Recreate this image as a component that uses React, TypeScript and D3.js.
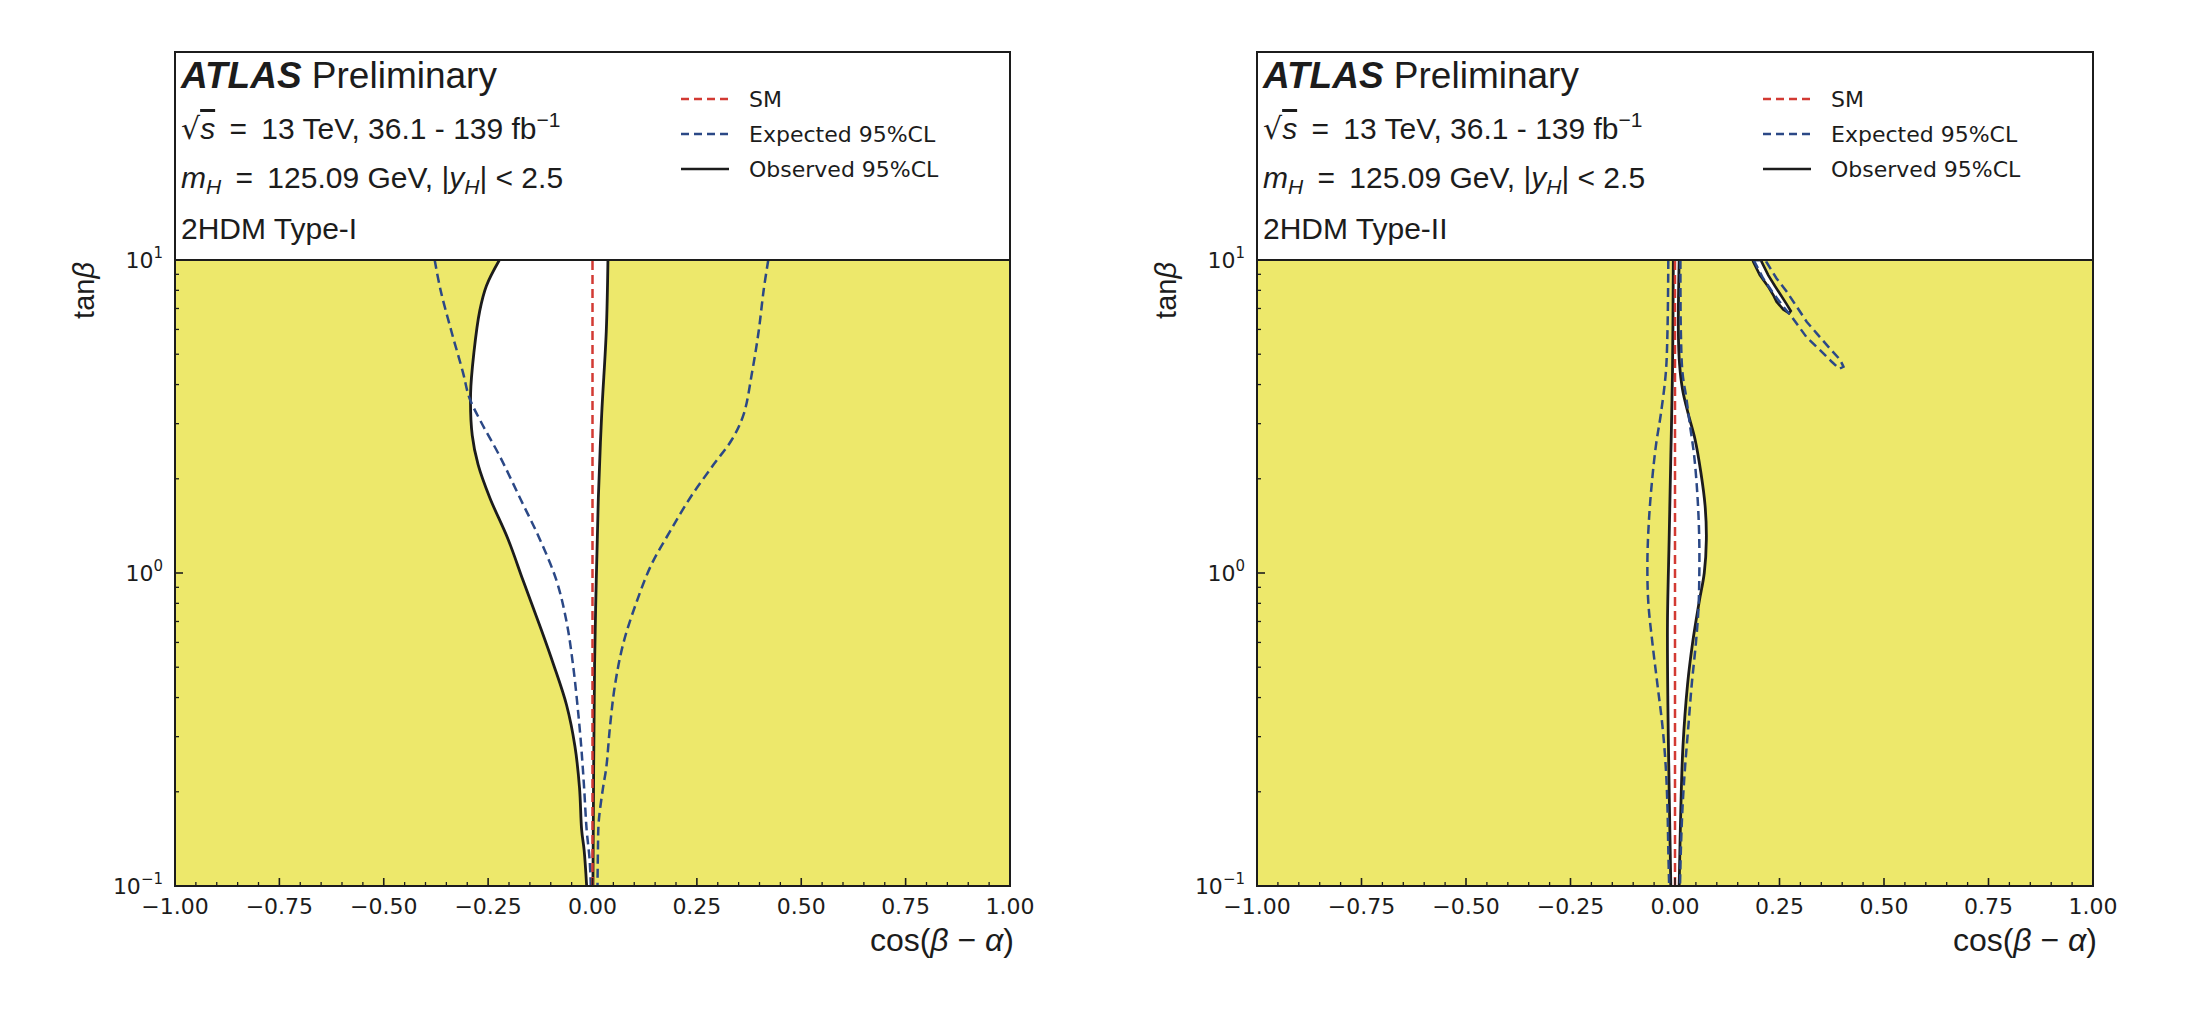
import React from 'react';
import * as d3 from 'd3';

type Pt = [number, number]; // [cos(beta - alpha), tan(beta)]

// ---- data ----
const xMajorTicks = [-1, -0.75, -0.5, -0.25, 0, 0.25, 0.5, 0.75, 1];
const yMajorTicks = [0.1, 1, 10];
const legendLabels = ['SM', 'Expected 95%CL', 'Observed 95%CL'];
const modelNames = ['2HDM Type-I', '2HDM Type-II'];

// Type-I observed contour (left and right edge of the allowed band, top -> bottom)
const typeIObsLeft: Pt[] = [
  [-0.223, 10], [-0.254, 8.28], [-0.27, 6.89], [-0.284, 5.07], [-0.292, 3.74],
  [-0.288, 2.75], [-0.274, 2.22], [-0.246, 1.74], [-0.202, 1.28], [-0.166, 0.944],
  [-0.122, 0.655], [-0.094, 0.513], [-0.062, 0.378], [-0.042, 0.279], [-0.031, 0.205],
  [-0.026, 0.151], [-0.02, 0.13], [-0.014, 0.1],
];
const typeIObsRight: Pt[] = [
  [0.037, 10], [0.033, 5.92], [0.022, 3.21], [0.014, 1.74], [0.009, 0.944],
  [0.005, 0.513], [0.001, 0.1],
];
// Type-I expected contour
const typeIExpLeft: Pt[] = [
  [-0.378, 10], [-0.364, 8.02], [-0.338, 5.92], [-0.31, 4.36], [-0.295, 3.63],
  [-0.266, 3.02], [-0.222, 2.36], [-0.174, 1.74], [-0.126, 1.28], [-0.086, 0.944],
  [-0.062, 0.697], [-0.047, 0.513], [-0.036, 0.378], [-0.027, 0.279], [-0.02, 0.205],
  [-0.014, 0.151], [-0.007, 0.122], [-0.004, 0.1],
];
const typeIExpRight: Pt[] = [
  [0.421, 10], [0.41, 8.02], [0.398, 5.92], [0.382, 4.36], [0.362, 3.21],
  [0.334, 2.67], [0.29, 2.22], [0.234, 1.74], [0.186, 1.36], [0.142, 1.07],
  [0.106, 0.811], [0.074, 0.597], [0.054, 0.44], [0.042, 0.324], [0.033, 0.239],
  [0.025, 0.205], [0.015, 0.161], [0.013, 0.13], [0.012, 0.1],
];

// Type-II observed contour
const typeIIObsLeft: Pt[] = [
  [-0.004, 10], [-0.006, 4.36], [-0.01, 2.36], [-0.014, 1.28], [-0.018, 0.697],
  [-0.017, 0.378], [-0.014, 0.205], [-0.01, 0.1],
];
const typeIIObsRight: Pt[] = [
  [0.01, 10], [0.008, 5.92], [0.011, 4.63], [0.018, 3.86], [0.032, 3.21],
  [0.048, 2.67], [0.062, 2.09], [0.072, 1.64], [0.075, 1.28], [0.07, 1.0],
  [0.058, 0.811], [0.042, 0.597], [0.03, 0.44], [0.019, 0.279], [0.014, 0.178],
  [0.01, 0.1],
];
const typeIIObsIsland: Pt[] = [
  [0.186, 10], [0.187, 9.89], [0.203, 8.95], [0.223, 8.22], [0.235, 7.73],
  [0.243, 7.36], [0.259, 6.95], [0.273, 6.76], [0.277, 6.87], [0.267, 7.23],
  [0.253, 7.73], [0.239, 8.26], [0.223, 8.95], [0.207, 9.89], [0.208, 10],
];
// Type-II expected contour
const typeIIExpLeft: Pt[] = [
  [-0.016, 10], [-0.018, 5.92], [-0.022, 4.36], [-0.034, 3.21], [-0.045, 2.59],
  [-0.054, 2.03], [-0.062, 1.5], [-0.066, 1.1], [-0.064, 0.811], [-0.054, 0.597],
  [-0.042, 0.44], [-0.03, 0.324], [-0.022, 0.239], [-0.018, 0.178], [-0.016, 0.13],
  [-0.014, 0.1],
];
const typeIIExpRight: Pt[] = [
  [0.013, 10], [0.014, 5.92], [0.018, 4.36], [0.027, 3.63], [0.035, 3.02],
  [0.046, 2.36], [0.054, 1.74], [0.058, 1.28], [0.058, 0.944], [0.056, 0.764],
  [0.05, 0.597], [0.04, 0.44], [0.032, 0.324], [0.024, 0.239], [0.018, 0.178],
  [0.014, 0.13], [0.012, 0.1],
];
const typeIIExpIsland: Pt[] = [
  [0.189, 10], [0.19, 9.89], [0.211, 8.73], [0.235, 7.83], [0.259, 7.1],
  [0.279, 6.59], [0.315, 5.66], [0.347, 5.15], [0.375, 4.73], [0.393, 4.49],
  [0.403, 4.56], [0.395, 4.8], [0.367, 5.28], [0.339, 5.83], [0.315, 6.35],
  [0.291, 7.1], [0.267, 7.93], [0.243, 8.73], [0.218, 9.89], [0.217, 10],
];

// ---- layout / style ----
const W = 2186;
const H = 1022;
const FRAME_TOP = 52;
const DATA_TOP = 260;
const DATA_BOTTOM = 886;

const YELLOW = '#ede86b';
const RED = '#d23a33';
const BLUE = '#2b4886';
const INK = '#1c1c1c';
const SANS = '"Liberation Sans", Arial, sans-serif';
const DEJAVU = '"DejaVu Sans", sans-serif';
const THIN = '\u2009';

type PanelProps = {
  id: string;
  left: number;
  right: number;
  model: string;
  obsLeft: Pt[];
  obsRight: Pt[];
  obsIslands: Pt[][];
  expCurves: Pt[][];
  expIslands: Pt[][];
};

function Panel(p: PanelProps) {
  const x = d3.scaleLinear().domain([-1, 1]).range([p.left, p.right]);
  const y = d3.scaleLog().domain([0.1, 10]).range([DATA_BOTTOM, DATA_TOP]);

  const curve = d3
    .line<Pt>()
    .x((d) => x(d[0]))
    .y((d) => y(d[1]))
    .curve(d3.curveCatmullRom.alpha(0.5));
  const loop = d3
    .line<Pt>()
    .x((d) => x(d[0]))
    .y((d) => y(d[1]))
    .curve(d3.curveLinearClosed);

  // allowed (white) band: left edge down, right edge back up
  const band =
    curve(p.obsLeft)! + 'L' + curve([...p.obsRight].reverse())!.slice(1) + 'Z';

  const xMinor = x.ticks(40).filter((t) => !xMajorTicks.some((m) => Math.abs(m - t) < 1e-6));
  const yMinor = y.ticks().filter((t) => !yMajorTicks.includes(t));
  const fmt = d3.format('.2f');
  const clipId = `clip-${p.id}`;
  const legendX = p.left + 506;
  const tx = p.left + 6;

  return (
    <g>
      <defs>
        <clipPath id={clipId}>
          <rect x={p.left} y={DATA_TOP} width={p.right - p.left} height={DATA_BOTTOM - DATA_TOP} />
        </clipPath>
      </defs>

      {/* header box */}
      <rect x={p.left} y={FRAME_TOP} width={p.right - p.left} height={DATA_TOP - FRAME_TOP} fill="#fff" />

      {/* excluded region and allowed region */}
      <g clipPath={`url(#${clipId})`}>
        <rect x={p.left} y={DATA_TOP} width={p.right - p.left} height={DATA_BOTTOM - DATA_TOP} fill={YELLOW} />
        <path d={band} fill="#fff" />
        {p.obsIslands.map((isl, i) => (
          <path key={i} d={loop(isl)!} fill="#fff" />
        ))}

        {/* observed */}
        <path d={curve(p.obsLeft)!} fill="none" stroke={INK} strokeWidth={2.8} />
        <path d={curve(p.obsRight)!} fill="none" stroke={INK} strokeWidth={2.8} />
        {p.obsIslands.map((isl, i) => (
          <path key={i} d={loop(isl)!} fill="none" stroke={INK} strokeWidth={2.6} />
        ))}

        {/* expected */}
        {p.expCurves.map((c, i) => (
          <path key={i} d={curve(c)!} fill="none" stroke={BLUE} strokeWidth={2.5} strokeDasharray="9 5" />
        ))}
        {p.expIslands.map((isl, i) => (
          <path key={i} d={loop(isl)!} fill="none" stroke={BLUE} strokeWidth={2.5} strokeDasharray="9 5" />
        ))}

        {/* SM */}
        <line x1={x(0)} x2={x(0)} y1={y(0.1)} y2={y(10)} stroke={RED} strokeWidth={2.5} strokeDasharray="9 5" />
      </g>

      {/* ticks */}
      {xMajorTicks.map((t) => (
        <g key={`xM${t}`}>
          <line x1={x(t)} x2={x(t)} y1={DATA_BOTTOM} y2={DATA_BOTTOM - 8} stroke={INK} strokeWidth={1.6} />
          <text x={x(t)} y={914} textAnchor="middle" fontFamily={DEJAVU} fontSize={22} fill={INK}>
            {fmt(t)}
          </text>
        </g>
      ))}
      {xMinor.map((t) => (
        <line key={`xm${t}`} x1={x(t)} x2={x(t)} y1={DATA_BOTTOM} y2={DATA_BOTTOM - 4} stroke={INK} strokeWidth={1.3} />
      ))}
      {yMajorTicks.map((t) => (
        <g key={`yM${t}`}>
          <line x1={p.left} x2={p.left + 8} y1={y(t)} y2={y(t)} stroke={INK} strokeWidth={1.6} />
          <text x={p.left - 12} y={y(t) + 8} textAnchor="end" fontFamily={DEJAVU} fontSize={22} fill={INK}>
            10
            <tspan dy={-10} fontSize={15}>
              {String(Math.round(Math.log10(t))).replace('-', '\u2212')}
            </tspan>
          </text>
        </g>
      ))}
      {yMinor.map((t) => (
        <line key={`ym${t}`} x1={p.left} x2={p.left + 4} y1={y(t)} y2={y(t)} stroke={INK} strokeWidth={1.3} />
      ))}

      {/* frame */}
      <rect
        x={p.left}
        y={FRAME_TOP}
        width={p.right - p.left}
        height={DATA_BOTTOM - FRAME_TOP}
        fill="none"
        stroke={INK}
        strokeWidth={2}
      />
      <line x1={p.left} x2={p.right} y1={DATA_TOP} y2={DATA_TOP} stroke={INK} strokeWidth={2} />

      {/* header text */}
      <g fontFamily={SANS} fill={INK}>
        <text x={tx} y={88} fontSize={37}>
          <tspan fontWeight="bold" fontStyle="italic">ATLAS</tspan> Preliminary
        </text>
        <text x={tx} y={139} fontSize={30}>
          <tspan fontFamily={DEJAVU}>√</tspan>
          <tspan fontStyle="italic" textDecoration="overline">s</tspan>
          <tspan>{` ${THIN}=${THIN} 13 TeV, 36.1 - 139 fb`}</tspan>
          <tspan dy={-12} fontSize={21}>−1</tspan>
        </text>
        <text x={tx} y={188} fontSize={30}>
          <tspan fontStyle="italic">m</tspan>
          <tspan dy={6} fontSize={21} fontStyle="italic">H</tspan>
          <tspan dy={-6}>{` ${THIN}=${THIN} 125.09 GeV, |`}</tspan>
          <tspan fontStyle="italic">y</tspan>
          <tspan dy={6} fontSize={21} fontStyle="italic">H</tspan>
          <tspan dy={-6}>| &lt; 2.5</tspan>
        </text>
        <text x={tx} y={239} fontSize={30}>
          {p.model}
        </text>
      </g>

      {/* legend */}
      <g fontFamily={DEJAVU} fontSize={22} fill={INK}>
        {legendLabels.map((lab, i) => {
          const ly = 99 + i * 35;
          const color = i === 0 ? RED : i === 1 ? BLUE : INK;
          return (
            <g key={lab}>
              <line
                x1={legendX}
                x2={legendX + 48}
                y1={ly}
                y2={ly}
                stroke={color}
                strokeWidth={2.4}
                strokeDasharray={i < 2 ? '8 5' : undefined}
              />
              <text x={legendX + 68} y={ly + 8}>
                {lab}
              </text>
            </g>
          );
        })}
      </g>

      {/* axis labels */}
      <text
        transform={`translate(${p.left - 81},${DATA_TOP + 2}) rotate(-90)`}
        textAnchor="end"
        fontFamily={SANS}
        fontSize={29}
        fill={INK}
      >
        tan<tspan fontStyle="italic">β</tspan>
      </text>
      <text x={p.right + 4} y={951} textAnchor="end" fontFamily={SANS} fontSize={32} fill={INK}>
        cos(<tspan fontStyle="italic">β</tspan> − <tspan fontStyle="italic">α</tspan>)
      </text>
    </g>
  );
}

export default function App() {
  return (
    <svg
      width={W}
      height={H}
      viewBox={`0 0 ${W} ${H}`}
      style={{ position: 'absolute', left: 0, top: 0, display: 'block', background: '#fff' }}
    >
      <Panel
        id="type1"
        left={175}
        right={1010}
        model={modelNames[0]}
        obsLeft={typeIObsLeft}
        obsRight={typeIObsRight}
        obsIslands={[]}
        expCurves={[typeIExpLeft, typeIExpRight]}
        expIslands={[]}
      />
      <Panel
        id="type2"
        left={1257}
        right={2093}
        model={modelNames[1]}
        obsLeft={typeIIObsLeft}
        obsRight={typeIIObsRight}
        obsIslands={[typeIIObsIsland]}
        expCurves={[typeIIExpLeft, typeIIExpRight]}
        expIslands={[typeIIExpIsland]}
      />
    </svg>
  );
}
